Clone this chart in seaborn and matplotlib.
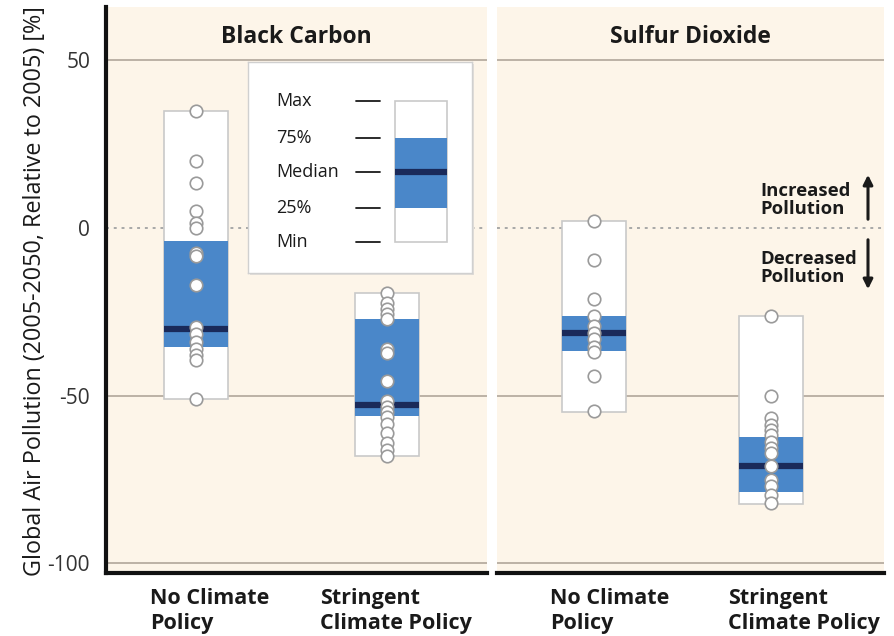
import matplotlib
matplotlib.use("Agg")
import matplotlib.pyplot as plt
import numpy as np
import pandas as pd
import seaborn as sns
from matplotlib.patches import Rectangle

# ---- data -------------------------------------------------------------
policies = ["No Climate\nPolicy", "Stringent\nClimate Policy"]
panel_titles = ["Black Carbon", "Sulfur Dioxide"]

# box statistics per policy scenario (min, 25%, median, 75%, max)
bc_min = [-51, -68]
bc_q1 = [-35.5, -56]
bc_med = [-30, -52.8]
bc_q3 = [-4, -27.2]
bc_max = [35, -19.3]

so2_min = [-55, -82.3]
so2_q1 = [-36.6, -78.6]
so2_med = [-31.2, -70.9]
so2_q3 = [-26.4, -62.2]
so2_max = [2, -26.4]

# individual model results
bc_none = [35, 20, 13.5, 5, 1.5, 0, -7.5, -8.5, -17, -29.5, -31.5, -34, -36, -38, -39.5, -51]
bc_stringent = [-19.3, -22.5, -24.3, -25.6, -27.2, -36.2, -37.4, -45.6, -51.5, -53.3,
                -54.8, -56.3, -58.4, -61.2, -64.2, -66.2, -68]
so2_none = [2, -9.5, -21.3, -26.2, -29.2, -31.2, -33.2, -35.4, -36.9, -44.1, -54.5]
so2_stringent = [-26.4, -50, -56.8, -58.7, -60.2, -61.7, -63.7, -65.7, -67.2, -70.9,
                 -75.1, -77.1, -79.6, -82.1]

yticks = [50, 0, -50, -100]
ytick_labels = ["50", "0", "-50", "-100"]

# ---- style ------------------------------------------------------------
sns.set_style("white")
plt.rcParams["font.family"] = ["Open Sans", "DejaVu Sans"]

BG = "#fdf5e9"
BLUE = "#4a87c9"
NAVY = "#1a2a5a"
EDGE = "#c9c9c9"
GRID = "#bcb2a6"
TXT = "#1a1a1a"

fig = plt.figure(figsize=(8.95, 6.36), dpi=100)
W, H = 895, 636


def fig_rect(x0, y0, x1, y1):
    """pixel box (top-left origin) -> figure fraction rect"""
    return [x0 / W, 1 - y1 / H, (x1 - x0) / W, (y1 - y0) / H]


ax1 = fig.add_axes(fig_rect(106, 7, 487, 573))
ax2 = fig.add_axes(fig_rect(497, 7, 884, 573))

panels = [
    (ax1, bc_none, bc_stringent, bc_min, bc_q1, bc_med, bc_q3, bc_max, (-0.471, 1.524), 0.335),
    (ax2, so2_none, so2_stringent, so2_min, so2_q1, so2_med, so2_q3, so2_max, (-0.548, 1.638), 0.36),
]

for i, (ax, pn, ps, mn, q1, md, q3, mx, xlim, bw) in enumerate(panels):
    ax.set_facecolor(BG)
    df = pd.DataFrame({
        "policy": [policies[0]] * len(pn) + [policies[1]] * len(ps),
        "value": pn + ps,
    })
    xs = np.arange(len(policies))
    # whole range (min-max) boxes
    ax.bar(xs, np.array(mx) - np.array(mn), bottom=mn, width=bw, color="white",
           edgecolor=EDGE, linewidth=1.2, zorder=2)
    # interquartile range
    ax.bar(xs, np.array(q3) - np.array(q1), bottom=q1, width=bw, color=BLUE,
           edgecolor="none", zorder=3)
    # median bar
    ax.hlines(md, xs - bw / 2, xs + bw / 2, color=NAVY, linewidth=4.5, zorder=4)

    sns.stripplot(data=df, x="policy", y="value", order=policies, jitter=False,
                  color="white", edgecolor="#9a9a9a", linewidth=1.2, size=9,
                  ax=ax, zorder=5)

    # reference lines
    for yv in [50, -50, -100]:
        ax.axhline(yv, color=GRID, linewidth=1.4, zorder=1)
    ax.axhline(0, color="#a8a8a8", linewidth=1.4, linestyle=(0, (1.5, 2.5)), zorder=1)

    ax.set_xlim(*xlim)
    ax.set_ylim(-102.9, 65.9)
    ax.set_xlabel("")
    ax.set_ylabel("")
    ax.set_xticks([])
    ax.tick_params(left=False, bottom=False)
    for s in ["top", "right"]:
        ax.spines[s].set_visible(False)
    ax.spines["bottom"].set_color("#111111")
    ax.spines["bottom"].set_linewidth(3)
    ax.spines["left"].set_visible(i == 0)
    ax.spines["left"].set_color("#111111")
    ax.spines["left"].set_linewidth(3)

    ax.text(0.5, 0.947, panel_titles[i], transform=ax.transAxes, ha="center",
            va="center", fontsize=16.5, fontweight="bold", color=TXT)

    # category labels under each box (left-aligned blocks)
    offsets = [-0.24, -0.35] if i == 0 else [-0.25, -0.245]
    for k, lab in enumerate(policies):
        ax.text(xs[k] + offsets[k], -0.027, lab, transform=ax.get_xaxis_transform(),
                ha="left", va="top", fontsize=15.5, fontweight="bold", color=TXT,
                linespacing=1.22)

ax1.set_yticks(yticks)
ax1.set_yticklabels(ytick_labels, fontsize=15, color="#333333")
ax1.tick_params(axis="y", pad=8)
ax2.set_yticks([])

fig.text(35 / W, 1 - 291 / H, "Global Air Pollution (2005-2050, Relative to 2005) [%]",
         rotation=90, ha="center", va="center", fontsize=16.8, color=TXT)

# ---- legend inset -----------------------------------------------------
shadow = fig.add_axes(fig_rect(250, 64, 474, 275))
shadow.set_facecolor("#e2ded9")
shadow.set_xticks([]); shadow.set_yticks([])
for s in shadow.spines.values():
    s.set_visible(False)
leg = fig.add_axes(fig_rect(248, 62, 472, 273))
leg.set_facecolor("white")
leg.set_xticks([]); leg.set_yticks([])
for s in leg.spines.values():
    s.set_color("#d0d0d0")
    s.set_linewidth(1)
leg.set_xlim(248, 472)
leg.set_ylim(273, 62)
leg_labels = ["Max", "75%", "Median", "25%", "Min"]
leg_y = [101, 138, 172, 208, 242]
for lab, yy in zip(leg_labels, leg_y):
    leg.text(276, yy, lab, ha="left", va="center", fontsize=13, color=TXT)
    leg.plot([356, 380], [yy, yy], color=TXT, linewidth=1.3)
leg.add_patch(Rectangle((395, 101), 52, 141, facecolor="white", edgecolor=EDGE, linewidth=1.2))
leg.add_patch(Rectangle((395, 138), 52, 70, facecolor=BLUE, edgecolor="none"))
leg.plot([395, 447], [172, 172], color=NAVY, linewidth=4.5, solid_capstyle="butt")

# ---- direction annotation ---------------------------------------------
ax2.text(760 / W, 1 - 200 / H, "Increased\nPollution", transform=fig.transFigure,
         ha="left", va="center", fontsize=13.3, fontweight="bold", color=TXT, linespacing=1.05)
ax2.text(760 / W, 1 - 268 / H, "Decreased\nPollution", transform=fig.transFigure,
         ha="left", va="center", fontsize=13.3, fontweight="bold", color=TXT, linespacing=1.05)
ax2.annotate("", xy=(868 / W, 1 - 172 / H), xytext=(868 / W, 1 - 222 / H),
             xycoords="figure fraction", textcoords="figure fraction",
             arrowprops=dict(arrowstyle="-|>", color=TXT, lw=2.2, mutation_scale=14))
ax2.annotate("", xy=(868 / W, 1 - 292 / H), xytext=(868 / W, 1 - 237 / H),
             xycoords="figure fraction", textcoords="figure fraction",
             arrowprops=dict(arrowstyle="-|>", color=TXT, lw=2.2, mutation_scale=14))

fig.savefig("out.png", dpi=100, facecolor="white")
